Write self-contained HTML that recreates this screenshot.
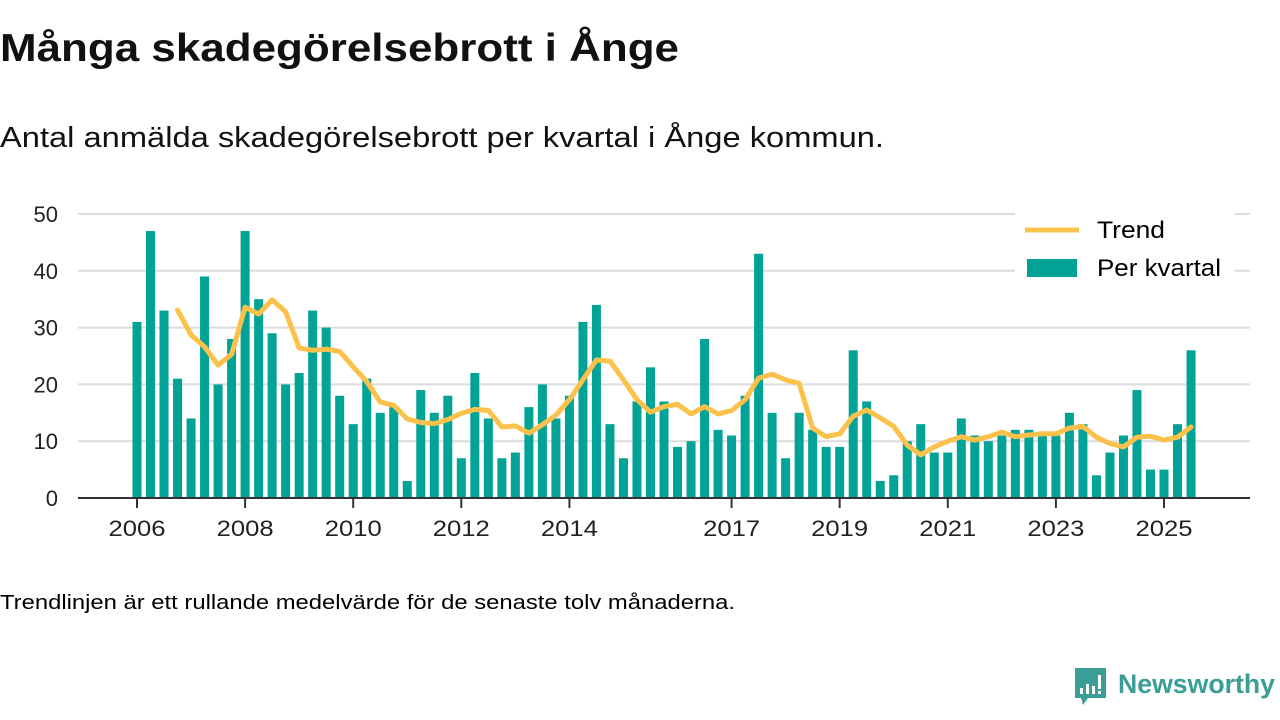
<!DOCTYPE html>
<html><head><meta charset="utf-8"><style>
body{margin:0;width:1280px;height:720px;background:#fff;overflow:hidden;font-family:"Liberation Sans",sans-serif;color:#111}
svg{position:absolute;left:0;top:0}
</style></head><body>
<svg width="1280" height="720">
<text x="0" y="61" font-size="39" font-weight="bold" fill="#111" textLength="679" lengthAdjust="spacingAndGlyphs">Många skadegörelsebrott i Ånge</text>
<text x="0" y="147" font-size="29" fill="#111" textLength="884" lengthAdjust="spacingAndGlyphs">Antal anmälda skadegörelsebrott per kvartal i Ånge kommun.</text>
<g id="grid"></g><g id="bars"></g><g id="trend"></g><g id="axes"></g>
<g>
<rect x="1015" y="212" width="220" height="78" fill="#fff"/>
<line x1="1025" y1="230" x2="1079" y2="230" stroke="#fcc14a" stroke-width="5"/>
<text x="1097" y="238" font-size="24" textLength="68" lengthAdjust="spacingAndGlyphs">Trend</text>
<rect x="1027" y="259" width="50" height="18" fill="#00a396"/>
<text x="1097" y="276" font-size="24" textLength="124" lengthAdjust="spacingAndGlyphs">Per kvartal</text>
</g>
<text x="0" y="609" font-size="20" textLength="735" lengthAdjust="spacingAndGlyphs">Trendlinjen är ett rullande medelvärde för de senaste tolv månaderna.</text>
<g>
<path d="M1075 668h31v30h-18l-5 7-2-7h-6z" fill="#3a9e96"/>
<rect x="1080" y="688" width="3" height="6" fill="#fff"/><rect x="1086" y="684" width="3" height="10" fill="#fff"/><rect x="1092" y="686" width="3" height="8" fill="#fff"/><rect x="1098" y="675" width="3" height="14" fill="#fff"/><rect x="1098" y="691" width="3" height="3" fill="#fff"/>
<text x="1118" y="693" font-size="27" font-weight="bold" fill="#3a9e96" textLength="157" lengthAdjust="spacingAndGlyphs">Newsworthy</text>
</g>
</svg>
<script>
const values=[31,47,33,21, 14,39,20,28, 47,35,29,20, 22,33,30,18, 13,21,15,16, 3,19,15,18, 7,22,14,7, 8,16,20,14, 18,31,34,13, 7,17,23,17, 9,10,28,12, 11,18,43,15, 7,15,12,9, 9,26,17,3, 4,10,13,8, 8,14,11,10, 11,12,12,11, 11,15,13,4, 8,11,19,5, 5,13,26];
const trendStart=3;
const trend=[33.1,28.7,26.6,23.4,25.3,33.6,32.4,34.9,32.8,26.4,26,26.2,25.8,23.1,20.5,16.9,16.3,13.9,13.3,13.1,13.8,14.9,15.6,15.4,12.5,12.7,11.4,12.9,14.6,17.3,20.8,24.3,24.1,20.8,17.3,15.1,16.1,16.5,14.8,16.1,14.8,15.4,17.3,21.1,21.8,20.8,20.2,12.3,10.8,11.3,14.4,15.5,14.1,12.6,9.3,7.6,9.0,10.0,10.8,10.2,10.8,11.6,10.8,11.1,11.3,11.3,12.3,12.6,10.7,9.6,9.0,10.7,10.9,10.2,10.7,12.5];
const yTicks=[0,10,20,30,40,50];
const xLabels=[2006,2008,2010,2012,2014,2017,2019,2021,2023,2025];
const NS="http://www.w3.org/2000/svg";
const x=i=>137+i*(1164-137)/76;
const y=v=>498-v*(498-214)/50;
function mk(t,a,p){const e=document.createElementNS(NS,t);for(const k in a)e.setAttribute(k,a[k]);p.appendChild(e);return e;}
const G=document.getElementById('grid'),B=document.getElementById('bars'),T=document.getElementById('trend'),A=document.getElementById('axes');
yTicks.forEach(v=>{
 if(v>0){const l=mk('line',{x1:78,x2:1250,y1:y(v),y2:y(v),stroke:'#dcdcdc','stroke-width':2},G);
 
 }
 const t=mk('text',{x:58,y:y(v)+8,'font-size':22,'text-anchor':'end',fill:'#222'},A);t.textContent=v;
 
 
});
values.forEach((v,i)=>{
 const r=mk('rect',{x:x(i)-4.5,y:y(v),width:9,height:y(0)-y(v),fill:'#00a396'},B);
 
 
});
const pts=trend.map((v,i)=>x(i+trendStart).toFixed(1)+','+y(v).toFixed(1)).join(' ');
const pl=mk('polyline',{points:pts,fill:'none',stroke:'#fcc14a','stroke-width':5,'stroke-linejoin':'round','stroke-linecap':'round'},T);


const ax=mk('line',{x1:78,x2:1250,y1:498,y2:498,stroke:'#333','stroke-width':2},A);


xLabels.forEach(yr=>{
 const xx=x((yr-2006)*4);
 mk('line',{x1:xx,x2:xx,y1:498,y2:508,stroke:'#333','stroke-width':2},A);
 const t=mk('text',{x:xx,y:536,'font-size':22,'text-anchor':'middle',fill:'#222',textLength:57,lengthAdjust:'spacingAndGlyphs'},A);t.textContent=yr;
 
 
});
</script>
</body></html>
